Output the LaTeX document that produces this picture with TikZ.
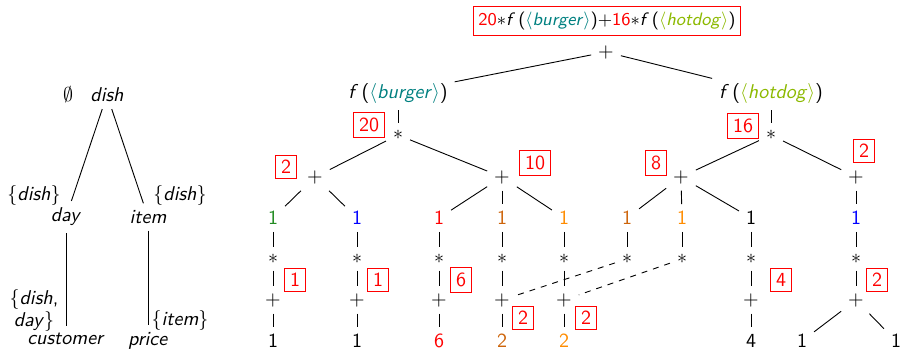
\documentclass[tikz,border=0pt]{standalone}
\usepackage{tikz}
\usetikzlibrary{positioning}
\usepackage{xcolor}
\usepackage{amsmath}
\renewcommand{\familydefault}{\sfdefault}
\definecolor{burgerc}{RGB}{0,128,128}
\definecolor{hotdogc}{RGB}{140,185,0}
\definecolor{leafgreen}{RGB}{34,139,34}
\definecolor{leafblue}{RGB}{0,0,255}
\definecolor{leafred}{RGB}{255,0,0}
\definecolor{darkorg}{RGB}{205,100,10}
\definecolor{lightorg}{RGB}{255,140,0}
\newcommand{\burger}{\textcolor{burgerc}{$\langle$\textit{burger}$\rangle$}}
\newcommand{\hotdog}{\textcolor{hotdogc}{$\langle$\textit{hotdog}$\rangle$}}

\begin{document}
\begin{tikzpicture}[
    x=0.5pt, y=-0.5pt,
    op/.style={inner sep=3.33pt},
    cnt/.style={rectangle, draw=red, text=red, inner sep=2.6pt, line width=0.5pt},
    lnk/.style={line width=0.45pt},
    dlnk/.style={lnk, dashed}
]
\useasboundingbox (0,0) rectangle (901,350);

\node[op] (empty) at (68,95) {$\emptyset$};
\node[op] (dish) at (107,95) {\textit{dish}};
\node[op] (day) at (66,217) {\textit{day}};
\node[op] (item) at (148,217) {\textit{item}};
\node[op] (cust) at (66,339) {\textit{customer}};
\node[op] (price) at (148,341) {\textit{price}};
\node (daylab) at (34,195) {$\{$\textit{dish}$\}$};
\node (itemlab) at (180,195) {$\{$\textit{dish}$\}$};
\node[align=center, inner sep=0pt] (custlab) at (34,310) {$\{$\textit{dish},\\[-1pt]\textit{day}$\}$};
\node (pricelab) at (180,320) {$\{$\textit{item}$\}$};

\draw[lnk] (dish) -- (day);
\draw[lnk] (dish) -- (item);
\draw[lnk] (day) -- (cust);
\draw[lnk] (item) -- (price);

\node[cnt, text=black, font=\small] (total) at (607,21) {\textcolor{red}{20}$\ast$\textit{f}\,(\burger)$+$\textcolor{red}{16}$\ast$\textit{f}\,(\hotdog)};
\node[op] (root) at (606,52) {$+$};
\node[op] (fb) at (398,93) {\textit{f}\,(\burger)};
\node[op] (fh) at (771,93) {\textit{f}\,(\hotdog)};
\node[op] (sb) at (398,135) {$\ast$};
\node[op] (sh) at (771,135) {$\ast$};
\node[cnt] (cb) at (369,125) {20};
\node[cnt] (ch) at (743,126) {16};

\node[op] (pa) at (315,177) {$+$};
\node[op] (pb) at (502,177) {$+$};
\node[op] (pc) at (681,177) {$+$};
\node[op] (pd) at (856,177) {$+$};
\node[cnt] (ca) at (286,167) {2};
\node[cnt] (cbb) at (535,163) {10};
\node[cnt] (cc) at (656,163) {8};
\node[cnt] (cd) at (864,151) {2};

\node[op, text=leafgreen] (l1) at (273,218) {1};
\node[op, text=leafblue] (l2) at (357,218) {1};
\node[op, text=leafred] (l3) at (439,218) {1};
\node[op, text=darkorg] (l4) at (502,218) {1};
\node[op, text=lightorg] (l5) at (564,218) {1};
\node[op, text=darkorg] (l6) at (627,218) {1};
\node[op, text=lightorg] (l7) at (682,218) {1};
\node[op] (l8) at (751,218) {1};
\node[op, text=leafblue] (l9) at (856,218) {1};

\node[op] (s1) at (273,259) {$\ast$};
\node[op] (s2) at (357,259) {$\ast$};
\node[op] (s3) at (439,259) {$\ast$};
\node[op] (s4) at (502,259) {$\ast$};
\node[op] (s5) at (564,259) {$\ast$};
\node[op] (s6) at (627,259) {$\ast$};
\node[op] (s7) at (682,259) {$\ast$};
\node[op] (s8) at (751,259) {$\ast$};
\node[op] (s9) at (856,259) {$\ast$};

\node[op] (q1) at (273,300) {$+$};
\node[op] (q2) at (357,300) {$+$};
\node[op] (q3) at (439,300) {$+$};
\node[op] (q4) at (502,300) {$+$};
\node[op] (q5) at (564,300) {$+$};
\node[op] (q8) at (751,300) {$+$};
\node[op] (q9) at (856,300) {$+$};

\node[op] (b1) at (273,341) {1};
\node[op] (b2) at (357,341) {1};
\node[op, text=leafred] (b3) at (439,341) {6};
\node[op, text=darkorg] (b4) at (502,341) {2};
\node[op, text=lightorg] (b5) at (564,341) {2};
\node[op] (b8) at (751,341) {4};
\node[op] (b9a) at (802,341) {1};
\node[op] (b9b) at (896,341) {1};

\node[cnt] (c1) at (295,280) {1};
\node[cnt] (c2) at (378,280) {1};
\node[cnt] (c3) at (461,280) {6};
\node[cnt] (c4) at (523,318) {2};
\node[cnt] (c5) at (586,318) {2};
\node[cnt] (c8) at (781,280) {4};
\node[cnt] (c9) at (877,280) {2};

\draw[lnk] (root) -- (fb);
\draw[lnk] (root) -- (fh);
\draw[lnk] (fb) -- (sb);
\draw[lnk] (fh) -- (sh);
\draw[lnk] (sb) -- (pa);
\draw[lnk] (sb) -- (pb);
\draw[lnk] (sh) -- (pc);
\draw[lnk] (sh) -- (pd);
\draw[lnk] (pa) -- (l1);
\draw[lnk] (pa) -- (l2);
\draw[lnk] (pb) -- (l3);
\draw[lnk] (pb) -- (l4);
\draw[lnk] (pb) -- (l5);
\draw[lnk] (pc) -- (l6);
\draw[lnk] (pc) -- (l7);
\draw[lnk] (pc) -- (l8);
\draw[lnk] (pd) -- (l9);

\draw[lnk] (l1) -- (s1);
\draw[lnk] (l2) -- (s2);
\draw[lnk] (l3) -- (s3);
\draw[lnk] (l4) -- (s4);
\draw[lnk] (l5) -- (s5);
\draw[lnk] (l6) -- (s6);
\draw[lnk] (l7) -- (s7);
\draw[lnk] (l8) -- (s8);
\draw[lnk] (l9) -- (s9);

\draw[lnk] (s1) -- (q1);
\draw[lnk] (s2) -- (q2);
\draw[lnk] (s3) -- (q3);
\draw[lnk] (s4) -- (q4);
\draw[lnk] (s5) -- (q5);
\draw[dlnk] (s6) -- (q4);
\draw[dlnk] (s7) -- (q5);
\draw[lnk] (s8) -- (q8);
\draw[lnk] (s9) -- (q9);

\draw[lnk] (q1) -- (b1);
\draw[lnk] (q2) -- (b2);
\draw[lnk] (q3) -- (b3);
\draw[lnk] (q4) -- (b4);
\draw[lnk] (q5) -- (b5);
\draw[lnk] (q8) -- (b8);
\draw[lnk] (q9) -- (b9a);
\draw[lnk] (q9) -- (b9b);
\end{tikzpicture}
\end{document}
